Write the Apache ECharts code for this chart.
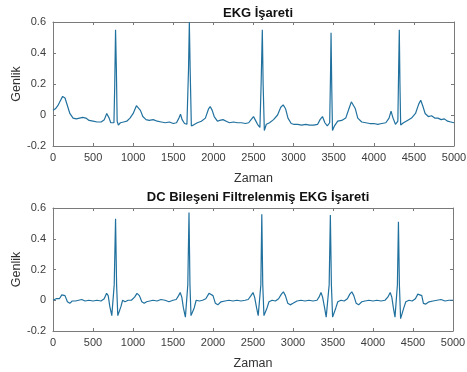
<!DOCTYPE html>
<html>
<head>
<meta charset="utf-8">
<script src="https://cdn.jsdelivr.net/npm/echarts@6/dist/echarts.min.js"></script>
<style>
  html, body { margin: 0; padding: 0; background: #fff; }
  #chart { width: 467px; height: 372px; }
</style>
</head>
<body>
<div id="chart"></div>
<script>
// ham EKG işareti (üst grafik)
var rawX = [0, 30, 60, 90, 120, 150, 180, 210, 250, 290, 330, 370, 410, 450, 500, 550, 600, 640, 670, 700,
  720, 740, 760, 770, 780, 790, 800, 815, 840, 880, 920, 960, 1000, 1040, 1060, 1090, 1120, 1160, 1200, 1250,
  1300, 1350, 1400, 1450, 1500, 1540, 1570, 1590, 1610, 1640, 1670, 1690, 1700, 1710, 1725, 1750, 1800, 1850, 1900, 1940,
  1960, 1985, 2010, 2050, 2080, 2120, 2160, 2200, 2250, 2300, 2350, 2400, 2440, 2470, 2500, 2520, 2550, 2580, 2595, 2610,
  2620, 2635, 2660, 2700, 2750, 2800, 2840, 2870, 2900, 2930, 2970, 3000, 3050, 3100, 3150, 3200, 3250, 3300, 3330, 3360,
  3390, 3420, 3450, 3460, 3467, 3475, 3485, 3510, 3550, 3600, 3650, 3690, 3720, 3740, 3770, 3800, 3850, 3900, 3950, 4000,
  4050, 4100, 4150, 4190, 4215, 4240, 4270, 4300, 4310, 4318, 4326, 4335, 4370, 4420, 4470, 4520, 4560, 4585, 4610, 4640,
  4680, 4720, 4760, 4800, 4840, 4880, 4920, 4960, 5000];
var rawY = [0.03, 0.04, 0.06, 0.09, 0.12, 0.11, 0.06, 0.01, -0.02, -0.025, -0.02, -0.015, -0.02, -0.035, -0.04, -0.045, -0.045, -0.03, 0.01, -0.02,
  -0.05, -0.06, -0.05, 0.2, 0.55, 0.3, -0.04, -0.065, -0.05, -0.045, -0.04, -0.02, 0.01, 0.06, 0.065, 0.03, -0.01, -0.03, -0.035, -0.03,
  -0.04, -0.045, -0.05, -0.045, -0.055, -0.05, -0.02, 0.005, -0.03, -0.055, -0.06, 0.3, 0.6, 0.3, -0.07, -0.065, -0.05, -0.04, -0.02, 0.04,
  0.055, 0.03, -0.01, -0.04, -0.035, -0.03, -0.04, -0.05, -0.045, -0.05, -0.05, -0.055, -0.05, -0.03, -0.01, -0.03, -0.06, -0.08, 0.2, 0.55,
  0.2, -0.1, -0.06, -0.05, -0.03, 0.0, 0.05, 0.065, 0.04, -0.02, -0.055, -0.06, -0.06, -0.065, -0.06, -0.065, -0.065, -0.06, -0.03, -0.01,
  -0.05, -0.07, -0.05, 0.25, 0.53, 0.2, -0.1, -0.07, -0.04, -0.035, -0.02, 0.04, 0.085, 0.09, 0.04, -0.02, -0.045, -0.05, -0.055, -0.055,
  -0.06, -0.055, -0.05, -0.02, 0.025, -0.02, -0.06, -0.04, 0.3, 0.55, 0.2, -0.065, -0.05, -0.035, -0.02, 0.01, 0.07, 0.095, 0.06, 0.01,
  -0.01, -0.005, -0.02, -0.02, -0.03, -0.025, -0.04, -0.045, -0.05];

// DC bileşeni filtrelenmiş işaret (alt grafik)
var filtX = [0, 40, 80, 110, 130, 150, 180, 210, 240, 280, 320, 360, 400, 450, 500, 550, 600, 640, 670, 690,
  710, 735, 750, 765, 782, 795, 810, 830, 850, 870, 900, 940, 980, 1020, 1050, 1080, 1110, 1140, 1170, 1210,
  1250, 1300, 1350, 1400, 1450, 1500, 1540, 1570, 1590, 1610, 1630, 1655, 1670, 1685, 1700, 1712, 1725, 1745, 1765, 1790,
  1830, 1870, 1910, 1950, 1975, 2000, 2030, 2060, 2100, 2150, 2200, 2250, 2300, 2350, 2400, 2440, 2475, 2500, 2520, 2545,
  2565, 2585, 2598, 2610, 2622, 2637, 2655, 2675, 2700, 2740, 2780, 2820, 2855, 2880, 2905, 2935, 2965, 3000, 3050, 3100,
  3150, 3200, 3250, 3300, 3325, 3350, 3370, 3395, 3415, 3435, 3452, 3467, 3480, 3495, 3515, 3535, 3560, 3600, 3640, 3680,
  3710, 3735, 3760, 3790, 3820, 3860, 3900, 3950, 4000, 4050, 4100, 4150, 4185, 4215, 4235, 4255, 4275, 4295, 4305, 4318,
  4330, 4345, 4365, 4385, 4410, 4450, 4490, 4530, 4560, 4585, 4610, 4630, 4660, 4700, 4750, 4800, 4850, 4900, 4950, 5000];
var filtY = [0.0, 0.01, 0.01, 0.035, 0.045, 0.03, -0.01, -0.02, -0.005, -0.005, 0.0, 0.005, -0.005, 0.0, -0.005, 0.0, -0.005, 0.01, 0.045, 0.03,
  -0.04, -0.1, -0.09, 0.1, 0.53, 0.1, -0.1, -0.1, -0.04, 0.0, -0.01, 0.0, 0.0, 0.02, 0.045, 0.03, -0.01, -0.02, -0.01, -0.005,
  0.0, -0.005, 0.005, 0.0, -0.01, 0.0, 0.005, 0.03, 0.05, 0.02, -0.05, -0.11, -0.1, 0.1, 0.57, 0.1, -0.1, -0.11, -0.05, 0.0,
  -0.005, 0.0, 0.01, 0.045, 0.055, 0.03, -0.02, -0.03, -0.01, -0.005, 0.0, -0.005, 0.0, -0.005, 0.0, 0.005, 0.03, 0.05, 0.02, -0.05,
  -0.1, -0.09, 0.1, 0.56, 0.1, -0.1, -0.11, -0.05, -0.01, 0.0, -0.005, 0.01, 0.04, 0.055, 0.03, -0.02, -0.03, -0.02, -0.005, 0.0,
  -0.005, 0.0, -0.005, 0.0, 0.02, 0.05, 0.02, -0.05, -0.11, -0.1, 0.1, 0.555, 0.1, -0.11, -0.12, -0.05, -0.01, 0.0, -0.005, 0.01,
  0.04, 0.055, 0.03, -0.02, -0.03, -0.01, -0.005, 0.0, -0.005, 0.0, -0.005, 0.0, 0.02, 0.05, 0.02, -0.05, -0.11, -0.1, 0.1, 0.51,
  0.1, -0.12, -0.11, -0.05, -0.01, 0.0, -0.005, 0.01, 0.04, 0.05, 0.03, -0.02, -0.025, -0.01, -0.005, 0.0, 0.005, -0.005, 0.0, 0.0];

var xTicks = { min: 0, max: 5000, interval: 500 };
var yTicks = { min: -0.2, max: 0.6, interval: 0.2 };
var titles = ['EKG İşareti', 'DC Bileşeni Filtrelenmiş EKG İşareti'];

function pairs(xs, ys) {
  return xs.map(function (x, i) { return [x, ys[i]]; });
}

var axisColor = '#7a7a7a';
var labelFont = { fontFamily: 'Liberation Sans', fontSize: 11, color: '#3c3c3c' };
var nameFont = { fontFamily: 'Liberation Sans', fontSize: 12.5, color: '#333' };

function xAx(grid, top) {
  return {
    type: 'value', gridIndex: grid, min: xTicks.min, max: xTicks.max, interval: xTicks.interval,
    position: top ? 'top' : 'bottom',
    name: top ? '' : 'Zaman', nameLocation: 'middle', nameGap: 26,
    nameTextStyle: nameFont,
    axisLine: { show: true, onZero: false, lineStyle: { color: axisColor, width: 1 } },
    axisTick: { show: true, inside: true, length: 3, lineStyle: { color: axisColor } },
    axisLabel: Object.assign({
      show: !top, margin: 6,
      formatter: function (v) { return String(v); }
    }, labelFont),
    splitLine: { show: false }
  };
}

function yAx(grid, right) {
  return {
    type: 'value', gridIndex: grid, min: yTicks.min, max: yTicks.max, interval: yTicks.interval,
    position: right ? 'right' : 'left',
    name: right ? '' : 'Genlik', nameLocation: 'middle', nameGap: 30, nameMoveOverlap: false,
    nameTextStyle: nameFont,
    axisLine: { show: true, onZero: false, lineStyle: { color: axisColor, width: 1 } },
    axisTick: { show: true, inside: true, length: 3, lineStyle: { color: axisColor } },
    axisLabel: Object.assign({
      show: !right, margin: 7,
      formatter: function (v) { return String(parseFloat(v.toFixed(1))); }
    }, labelFont),
    splitLine: { show: false }
  };
}

function lineSeries(grid, data) {
  return {
    type: 'line', xAxisIndex: grid * 2, yAxisIndex: grid * 2,
    data: data, showSymbol: false, symbol: 'none', clip: true,
    lineStyle: { color: '#21719f', width: 1.2 },
    silent: true, animation: false
  };
}

var chart = echarts.init(document.getElementById('chart'));
chart.setOption({
  backgroundColor: '#fff',
  animation: false,
  title: [
    { text: titles[0], left: 253, top: 2, textAlign: 'center',
      textStyle: { fontFamily: 'Liberation Sans', fontSize: 13, fontWeight: 'bold', color: '#111' } },
    { text: titles[1], left: 253, top: 186, textAlign: 'center',
      textStyle: { fontFamily: 'Liberation Sans', fontSize: 13, fontWeight: 'bold', color: '#111' } }
  ],
  grid: [
    { left: 53, right: 13, top: 22, height: 124, containLabel: false, outerBoundsMode: 'none' },
    { left: 53, right: 14, top: 208, height: 123, containLabel: false, outerBoundsMode: 'none' }
  ],
  xAxis: [xAx(0, false), xAx(0, true), xAx(1, false), xAx(1, true)],
  yAxis: [yAx(0, false), yAx(0, true), yAx(1, false), yAx(1, true)],
  series: [
    lineSeries(0, pairs(rawX, rawY)),
    lineSeries(1, pairs(filtX, filtY))
  ]
});
</script>
</body>
</html>
